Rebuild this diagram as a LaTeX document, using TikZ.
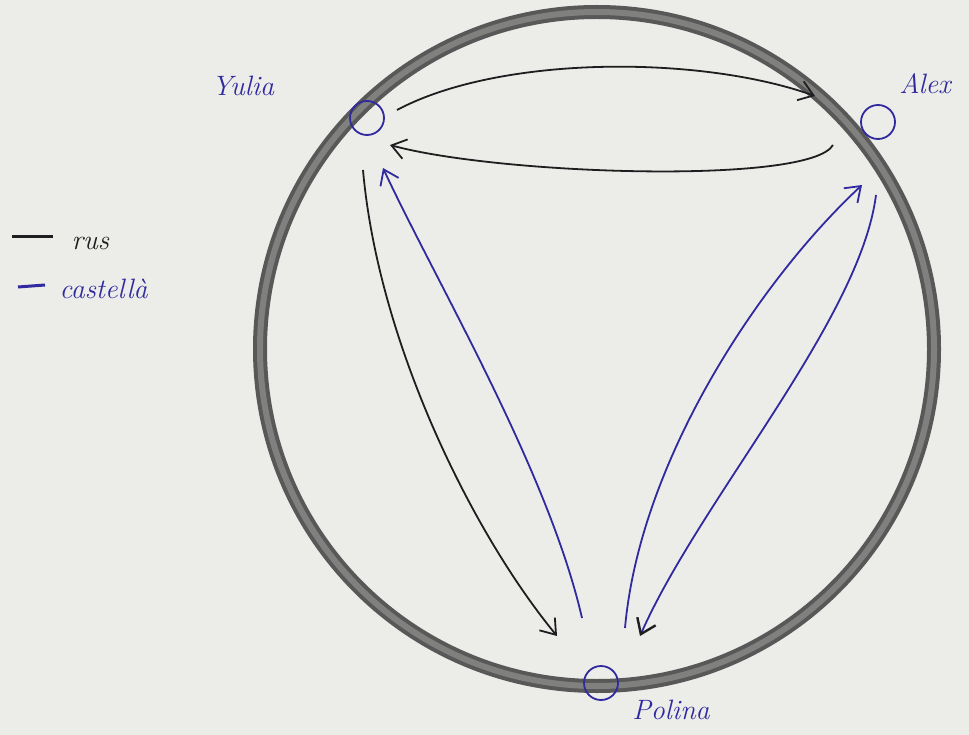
\documentclass[tikz,border=0pt]{standalone}
\usetikzlibrary{arrows.meta}
\definecolor{paper}{RGB}{236,236,233}
\definecolor{ink}{RGB}{30,30,32}
\definecolor{bink}{RGB}{48,42,158}
\definecolor{ringdark}{RGB}{88,88,88}
\definecolor{ringlight}{RGB}{128,128,126}
\tikzset{
  person/.style={circle,draw=bink,line width=1.8pt,minimum size=34pt,inner sep=0pt},
  namelabel/.style={text=bink,font=\fontsize{28}{32}\selectfont\itshape},
  legendtext/.style={font=\fontsize{28}{32}\selectfont\itshape,anchor=west},
  conn/.style={line width=1.8pt,-{Straight Barb[length=14pt,width=20pt,line width=1.8pt]}},
  rusarrow/.style={conn,draw=ink},
  casarrow/.style={conn,draw=bink},
}
\begin{document}
\begin{tikzpicture}[x=1pt,y=-1pt]
\fill[paper] (0,0) rectangle (969,735);
\useasboundingbox (0,0) rectangle (969,735);
% ring
\coordinate (C) at (597,349);
\draw[ringdark,line width=14pt] (C) circle[radius=337];
\draw[ringlight,line width=6pt] (C) circle[radius=337];
% people
\node[person] (Y) at (367,118) {};
\node[person] (A) at (878,122) {};
\node[person] (P) at (601,683) {};
\node[namelabel] (Yl) at (243,86) {Yulia};
\node[namelabel] (Al) at (925,84) {Alex};
\node[namelabel] (Pl) at (671,710) {Polina};
% connector end points
\coordinate (ya1) at (397,110);
\coordinate (ya2) at (815,96);
\coordinate (ay1) at (833,145);
\coordinate (ay2) at (390,145);
\coordinate (yp1) at (363,170);
\coordinate (yp2) at (557,636);
\coordinate (py1) at (582,618);
\coordinate (py2) at (383,168);
\coordinate (ap1) at (876,195);
\coordinate (ap2) at (640,636);
\coordinate (pa1) at (625,628);
\coordinate (pa2) at (862,185);
% connectors
\draw[rusarrow] (ya1) .. controls (500,55) and (700,55) .. (ya2);
\draw[rusarrow] (ay1) .. controls (810,185) and (500,175) .. (ay2);
\draw[rusarrow] (yp1) .. controls (378,340) and (470,530) .. (yp2);
\draw[casarrow] (py1) .. controls (548,470) and (435,280) .. (py2);
\draw[line width=1.8pt,draw=bink,-{Straight Barb[length=14pt,width=20pt,line width=2.4pt,color=ink]}] (ap1) .. controls (860,320) and (700,500) .. (ap2);
\draw[casarrow] (pa1) .. controls (640,460) and (760,280) .. (pa2);
% legend
\coordinate (l1a) at (12,237);
\coordinate (l1b) at (53,237);
\coordinate (l2a) at (18,287);
\coordinate (l2b) at (45,285);
\draw[ink,line width=3pt] (l1a) -- (l1b);
\draw[bink,line width=3pt] (l2a) -- (l2b);
\node[legendtext,text=ink] (rus) at (68,243) {rus};
\node[legendtext,text=bink] (cas) at (56,289) {castellà};
\end{tikzpicture}
\end{document}
